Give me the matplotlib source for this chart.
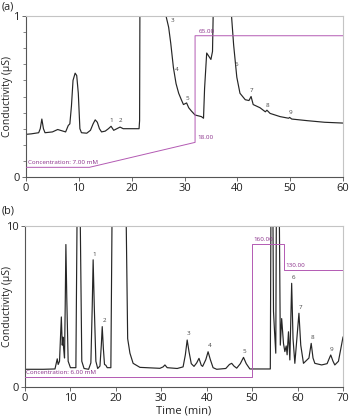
import matplotlib
matplotlib.use("Agg")
import matplotlib.pyplot as plt
from matplotlib.ticker import MultipleLocator

plt.rcParams['font.family'] = ['Open Sans', 'DejaVu Sans']

# ---- Panel (a): chromatogram, 0-60 min ----
time_a = [0, 1, 2.4, 2.7, 3.0, 3.3, 3.6, 5, 6, 6.5, 7, 7.5, 8.0, 8.3, 8.6, 8.9,
          9.3, 9.6, 9.9, 10.2, 10.5, 11.5, 12.2, 12.7, 13.1, 13.5, 13.9, 14.3, 15,
          15.6, 16.1, 16.6, 17.2, 17.8, 18.4, 19.5, 21.4, 21.5, 21.6, 26.0, 26.5,
          27.0, 27.4, 27.9, 28.4, 28.9, 29.4, 29.8, 30.4, 30.8, 31.3, 32.0, 32.6,
          33.2, 33.6, 33.8, 34.2, 34.6, 35.0, 35.3, 35.7, 38.5, 38.9, 39.3, 39.9,
          40.5, 41.5, 42.2, 42.6, 43.0, 44.3, 45.3, 45.6, 46.2, 48.1, 49.7, 49.9,
          50.3, 53.2, 56.5, 60]
signal_a = [0.265, 0.268, 0.275, 0.30, 0.36, 0.30, 0.275, 0.28, 0.295, 0.29, 0.285,
            0.28, 0.32, 0.33, 0.44, 0.60, 0.645, 0.63, 0.52, 0.30, 0.275, 0.272,
            0.29, 0.33, 0.355, 0.34, 0.30, 0.28, 0.285, 0.30, 0.315, 0.29, 0.30,
            0.31, 0.30, 0.30, 0.30, 0.35, 1.5, 1.5, 1.0, 0.93, 0.83, 0.68, 0.58,
            0.52, 0.48, 0.45, 0.46, 0.43, 0.41, 0.385, 0.38, 0.375, 0.365, 0.55,
            0.77, 0.75, 0.73, 0.78, 1.5, 1.5, 1.0, 0.82, 0.62, 0.52, 0.48, 0.475,
            0.50, 0.45, 0.43, 0.405, 0.415, 0.395, 0.375, 0.365, 0.37, 0.36, 0.35,
            0.34, 0.335]
peak_ids_a = ['1', '2', '3', '4', '5', '6', '7', '8', '9']
peak_t_a = [16.1, 17.9, 27.7, 28.5, 30.6, 39.9, 42.6, 45.7, 50.0]
peak_y_a = [0.335, 0.335, 0.955, 0.655, 0.475, 0.685, 0.52, 0.43, 0.385]

# eluent concentration program (mM)
conc_t_a = [0, 12, 32, 32, 60]
conc_a = [7, 7, 18, 65, 65]

# ---- Panel (b): chromatogram, 0-70 min ----
time_b = [0, 4, 6.6, 6.9, 7.1, 7.3, 7.6, 7.8, 8.0, 8.2, 8.35, 8.5, 8.7, 8.85, 9.0,
          9.2, 9.5, 10, 11.2, 11.5, 12.1, 12.5, 13.0, 14.0, 14.5, 14.8, 15.0,
          15.25, 15.6, 16.0, 16.5, 16.8, 17.0, 17.25, 17.5, 17.8, 18.1, 18.9,
          19.2, 22.2, 22.6, 23.1, 23.8, 25.3, 29.7, 30.4, 30.8, 31.3, 33.5, 34.8,
          35.3, 35.7, 36.1, 36.6, 37.2, 37.8, 38.3, 38.8, 39.1, 39.8, 40.3, 40.8,
          41.4, 42.2, 44.2, 45.0, 45.5, 46.0, 46.6, 47.4, 48.1, 48.7, 49.5, 54.0,
          54.15, 54.55, 54.7, 54.9, 55.2, 55.35, 55.95, 56.2, 56.5, 56.9, 57.2,
          57.5, 57.7, 58.0, 58.3, 58.7, 59.0, 59.4, 60.3, 60.7, 61.3, 62.5, 63.0,
          63.4, 63.8, 65.3, 66.5, 67.3, 67.8, 68.2, 69.0, 70]
signal_b = [1.1, 1.1, 1.12, 1.5, 1.75, 1.4, 1.6, 3.0, 4.35, 2.6, 3.1, 2.4, 1.8,
            5.0, 8.85, 5.5, 1.6, 1.2, 1.2, 12, 12, 1.6, 1.15, 1.1, 1.5, 5.0, 7.9,
            5.0, 1.6, 1.15, 1.3, 2.6, 3.75, 2.4, 1.4, 1.35, 1.2, 1.2, 12, 12, 3.0,
            2.1, 1.47, 1.22, 1.16, 1.25, 1.37, 1.2, 1.15, 1.25, 2.0, 2.92, 2.2,
            1.45, 1.28, 1.5, 1.78, 1.35, 1.28, 1.7, 2.19, 1.7, 1.2, 1.1, 1.15,
            1.4, 1.47, 1.3, 1.17, 1.45, 1.84, 1.45, 1.12, 1.12, 12, 12, 4.7, 3.6,
            2.1, 12, 12, 2.6, 4.25, 2.7, 2.2, 2.55, 2.0, 3.43, 1.68, 6.44, 3.0,
            1.47, 4.58, 2.6, 1.47, 1.8, 2.71, 1.8, 1.47, 1.37, 1.45, 1.99, 1.6,
            1.37, 1.6, 3.1]
peak_ids_b = ['1', '2', '3', '4', '5', '6', '7', '8', '9']
peak_t_b = [15.3, 17.4, 35.9, 40.6, 48.2, 59.1, 60.6, 63.2, 67.5]
peak_y_b = [8.05, 3.95, 3.15, 2.4, 2.05, 6.65, 4.8, 2.9, 2.2]

conc_t_b = [0, 50, 50, 57, 57, 70]
conc_b = [6, 6, 160, 160, 130, 130]

TRACE = '#262626'
PURPLE = '#b35ab3'
PURPLE_TXT = '#8a2f8a'
FRAME_DARK = '#555555'
FRAME_LIGHT = '#c4c4c4'

fig = plt.figure(figsize=(3.5, 4.18), dpi=100)
ax_a = fig.add_axes([26 / 350, 1 - 177 / 418, 317 / 350, 161 / 418])
ax_b = fig.add_axes([25 / 350, 1 - 387 / 418, 318 / 350, 161 / 418])


def style_axes(ax, xmax, ymax, xstep, label_x):
    ax.set_xlim(0, xmax)
    ax.set_ylim(0, ymax)
    ax.set_xticks(range(0, xmax + 1, xstep))
    ax.set_yticks([0, ymax])
    ax.set_yticklabels(['0', str(ymax)])
    for side in ('left', 'bottom'):
        ax.spines[side].set_color(FRAME_DARK)
        ax.spines[side].set_linewidth(0.8)
    for side in ('top', 'right'):
        ax.spines[side].set_color(FRAME_LIGHT)
        ax.spines[side].set_linewidth(0.8)
    ax.tick_params(axis='both', which='major', direction='out', length=3,
                   width=0.6, color=FRAME_DARK, labelsize=8, pad=1.5,
                   labelcolor='#222222')
    ax.tick_params(axis='y', which='minor', direction='out', length=2,
                   width=0.5, color=FRAME_DARK)
    ax.set_ylabel('Conductivity (\u03bcS)', fontsize=7.5, color='#222222')
    ax.yaxis.set_label_coords(label_x, 0.5)


def conc_axes(ax, lo, hi):
    tw = ax.twinx()
    tw.set_ylim(lo, hi)
    tw.axis('off')
    return tw


# (a)
style_axes(ax_a, 60, 1, 10, -0.042)
ax_a.yaxis.set_minor_locator(MultipleLocator(0.1))
ax_a.plot(time_a, signal_a, color=TRACE, lw=0.85, solid_joinstyle='round')
for lab, t, y in zip(peak_ids_a, peak_t_a, peak_y_a):
    ax_a.text(t, y, lab, fontsize=4.5, color='#444444', ha='center', va='bottom')
tw_a = conc_axes(ax_a, 2.74, 73.7)
tw_a.plot(conc_t_a, conc_a, color=PURPLE, lw=0.7)
tw_a.text(0.3, 7.9, 'Concentration: 7.00 mM', fontsize=4.5, color=PURPLE_TXT,
          ha='left', va='bottom')
tw_a.text(32.5, 19.0, '18.00', fontsize=4.5, color=PURPLE_TXT, ha='left',
          va='bottom')
tw_a.text(32.6, 65.8, '65.00', fontsize=4.5, color=PURPLE_TXT, ha='left',
          va='bottom')

# (b)
style_axes(ax_b, 70, 10, 10, -0.039)
ax_b.plot(time_b, signal_b, color=TRACE, lw=0.85, solid_joinstyle='round')
for lab, t, y in zip(peak_ids_b, peak_t_b, peak_y_b):
    ax_b.text(t, y, lab, fontsize=4.5, color='#444444', ha='center', va='bottom')
tw_b = conc_axes(ax_b, -6.0, 181.3)
tw_b.plot(conc_t_b, conc_b, color=PURPLE, lw=0.7)
tw_b.text(0.2, 7.5, 'Concentration: 6.00 mM', fontsize=4.5, color=PURPLE_TXT,
          ha='left', va='bottom')
tw_b.text(50.3, 162.5, '160.00', fontsize=4.5, color=PURPLE_TXT, ha='left',
          va='bottom')
tw_b.text(57.4, 132.5, '130.00', fontsize=4.5, color=PURPLE_TXT, ha='left',
          va='bottom')
ax_b.set_xlabel('Time (min)', fontsize=8, labelpad=1, color='#222222')

fig.text(2 / 350, 1 - 7 / 418, '(a)', fontsize=7.8, ha='left', va='center',
         color='#222222')
fig.text(2 / 350, 1 - 211 / 418, '(b)', fontsize=7.8, ha='left', va='center',
         color='#222222')

fig.savefig('out.png', dpi=100)
